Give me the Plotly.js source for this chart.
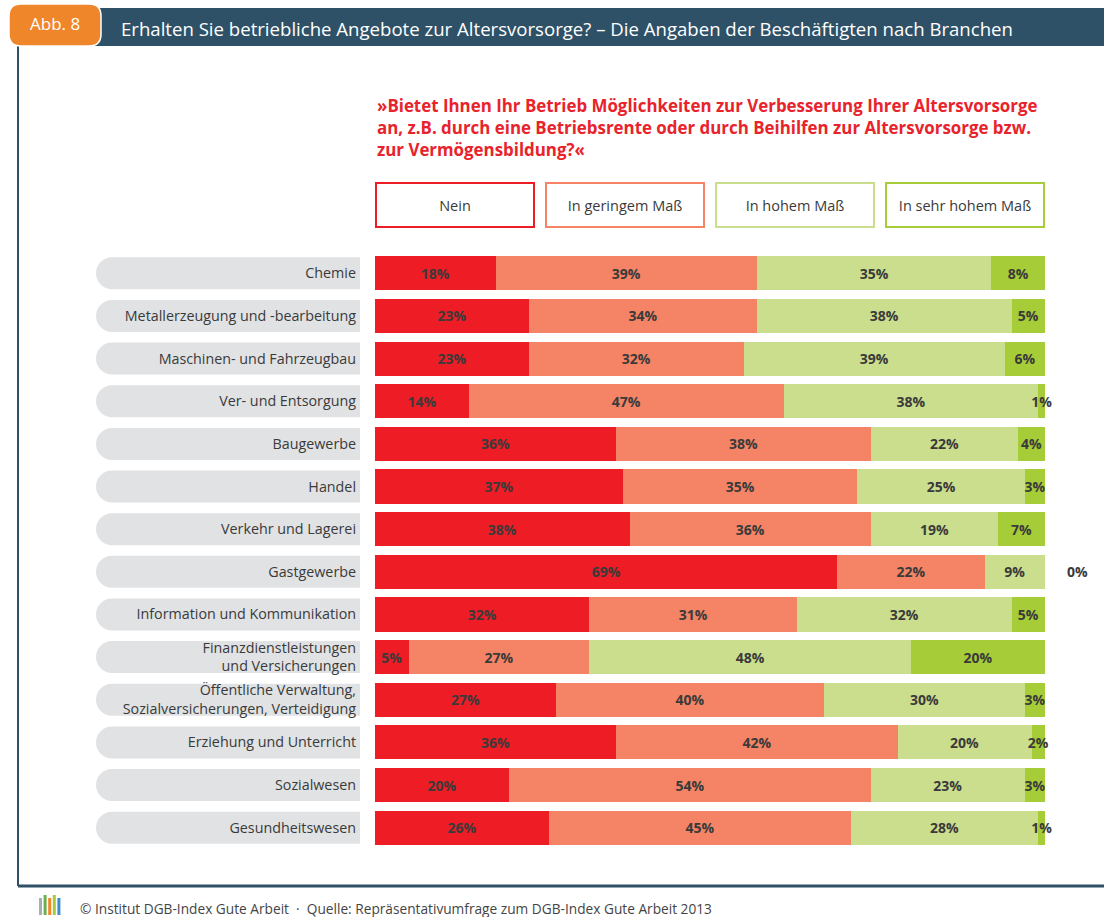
<!DOCTYPE html>
<html>
<head>
<meta charset="utf-8">
<script src="https://cdn.plot.ly/plotly-3.0.1.min.js"></script>
<style>
  html, body { margin: 0; padding: 0; background: #fff; }
  #chart { width: 1104px; height: 917px; }
</style>
</head>
<body>
<div id="chart"></div>
<script>
var branchen = [
    'Chemie',
    'Metallerzeugung und -bearbeitung',
    'Maschinen- und Fahrzeugbau',
    'Ver- und Entsorgung',
    'Baugewerbe',
    'Handel',
    'Verkehr und Lagerei',
    'Gastgewerbe',
    'Information und Kommunikation',
    'Finanzdienstleistungen<br>und Versicherungen',
    'Öffentliche Verwaltung,<br>Sozialversicherungen, Verteidigung',
    'Erziehung und Unterricht',
    'Sozialwesen',
    'Gesundheitswesen'
];
var antworten = ['Nein', 'In geringem Maß', 'In hohem Maß', 'In sehr hohem Maß'];

var nein       = [18, 23, 23, 14, 36, 37, 38, 69, 32, 5, 27, 36, 20, 26];
var gering     = [39, 34, 32, 47, 38, 35, 36, 22, 31, 27, 40, 42, 54, 45];
var hoch       = [35, 38, 39, 38, 22, 25, 19, 9, 32, 48, 30, 20, 23, 28];
var sehrHoch   = [8, 5, 6, 1, 4, 3, 7, 0, 5, 20, 3, 2, 3, 1];

var frage = '»Bietet Ihnen Ihr Betrieb Möglichkeiten zur Verbesserung Ihrer Altersvorsorge<br>' +
            'an, z.B. durch eine Betriebsrente oder durch Beihilfen zur Altersvorsorge bzw.<br>' +
            'zur Vermögensbildung?«';

var colors = ['#ee1d25', '#f58466', '#cade8d', '#a6cc38'];
var dark = '#2e5167';
var txt = '#3a3a3a';
var font = 'Open Sans, sans-serif';

// pixel -> paper helpers (plot area 375..1045 x, 252..849 y)
function X(px) { return (px - 375) / 670; }
function Y(py) { return (849 - py) / 597; }

var series = [nein, gering, hoch, sehrHoch];
var traces = series.map(function (vals, k) {
    return {
        type: 'bar',
        orientation: 'h',
        name: antworten[k],
        y: branchen,
        x: vals,
        marker: { color: colors[k], line: { width: 0 } },
        text: vals.map(function (v) { return v > 0 ? v + '%' : ''; }),
        texttemplate: '%{text}',
        textposition: 'inside',
        insidetextanchor: 'middle',
        constraintext: 'none',
        textangle: 0,
        textfont: { family: font, size: 14, color: txt, weight: 'bold' },
        cliponaxis: false,
        hoverinfo: 'skip'
    };
});

var shapes = [];
var annotations = [];

// grey pills behind the category labels
var h = 0.375, x0 = X(96), x1 = X(360), r = 16 / 670;
branchen.forEach(function (b, i) {
    shapes.push({
        type: 'path', xref: 'paper', yref: 'y', layer: 'below',
        path: 'M ' + x1 + ',' + (i - h) + ' L ' + (x0 + r) + ',' + (i - h) +
              ' C ' + (x0 + 0.448 * r) + ',' + (i - h) + ' ' + x0 + ',' + (i - 0.552 * h) + ' ' + x0 + ',' + i +
              ' C ' + x0 + ',' + (i + 0.552 * h) + ' ' + (x0 + 0.448 * r) + ',' + (i + h) + ' ' + (x0 + r) + ',' + (i + h) +
              ' L ' + x1 + ',' + (i + h) + ' Z',
        fillcolor: '#e1e2e4', line: { width: 0 }
    });
});

// zero values are drawn beside the bar end
sehrHoch.forEach(function (v, i) {
    if (v === 0) {
        annotations.push({
            xref: 'x', yref: 'y', x: 100, y: branchen[i], xshift: 32,
            xanchor: 'center', yanchor: 'middle',
            text: v + '%', showarrow: false,
            font: { family: font, size: 14, color: txt, weight: 'bold' }
        });
    }
});

// header band, frame and orange tag
shapes.push({ type: 'rect', xref: 'paper', yref: 'paper', x0: X(18), x1: X(1104), y0: Y(46), y1: Y(8),
    fillcolor: dark, line: { width: 0 } });
shapes.push({ type: 'line', xref: 'paper', yref: 'paper', x0: X(18), x1: X(18), y0: Y(45), y1: Y(886),
    line: { color: dark, width: 2 } });
shapes.push({ type: 'line', xref: 'paper', yref: 'paper', x0: X(18), x1: X(1104), y0: Y(886), y1: Y(886),
    line: { color: dark, width: 3 } });
var tx0 = X(9), tx1 = X(101), ty0 = Y(46), ty1 = Y(4), rx = 12 / 670, ry = 12 / 597;
shapes.push({
    type: 'path', xref: 'paper', yref: 'paper',
    path: 'M ' + (tx0 + rx) + ',' + ty1 + ' L ' + (tx1 - rx) + ',' + ty1 + ' Q ' + tx1 + ',' + ty1 + ' ' + tx1 + ',' + (ty1 - ry) +
          ' L ' + tx1 + ',' + (ty0 + ry) + ' Q ' + tx1 + ',' + ty0 + ' ' + (tx1 - rx) + ',' + ty0 +
          ' L ' + (tx0 + rx) + ',' + ty0 + ' Q ' + tx0 + ',' + ty0 + ' ' + tx0 + ',' + (ty0 + ry) +
          ' L ' + tx0 + ',' + (ty1 - ry) + ' Q ' + tx0 + ',' + ty1 + ' ' + (tx0 + rx) + ',' + ty1 + ' Z',
    fillcolor: '#f0862a', line: { color: '#ffffff', width: 1.5 }
});

annotations.push({ xref: 'paper', yref: 'paper', x: X(55), y: Y(24), xanchor: 'center', yanchor: 'middle',
    text: 'Abb. 8', showarrow: false, font: { family: font, size: 17, color: '#ffffff' } });
annotations.push({ xref: 'paper', yref: 'paper', x: X(119), y: Y(28), xanchor: 'left', yanchor: 'middle',
    text: 'Erhalten Sie betriebliche Angebote zur Altersvorsorge? – Die Angaben der Beschäftigten nach Branchen',
    showarrow: false, font: { family: font, size: 18.6, color: '#ffffff' } });

annotations.push({ xref: 'paper', yref: 'paper', x: 0, y: Y(92), xanchor: 'left', yanchor: 'top', align: 'left',
    text: frage, showarrow: false, font: { family: font, size: 16.9, color: '#e8232b', weight: 'bold' } });

// legend boxes
var boxW = 160, gap = 10;
antworten.forEach(function (a, k) {
    var cx = 375 + k * (boxW + gap) + boxW / 2;
    annotations.push({
        xref: 'paper', yref: 'paper', x: X(cx), y: Y(205), xanchor: 'center', yanchor: 'middle',
        text: a, showarrow: false,
        width: boxW - 4, height: 42, borderpad: 0, borderwidth: 2, bordercolor: colors[k],
        font: { family: font, size: 14.5, color: txt }
    });
});

// footer
var iconCols = ['#a9aeb3', '#6ab04c', '#f0862a', '#a6cc38', '#3b8fd0'];
iconCols.forEach(function (c, k) {
    shapes.push({ type: 'rect', xref: 'paper', yref: 'paper', x0: X(39 + k * 4.6), x1: X(42 + k * 4.6),
        y0: Y(915), y1: Y(898 - (k % 2) * 3), fillcolor: c, line: { width: 0 } });
});
annotations.push({ xref: 'paper', yref: 'paper', x: X(78), y: Y(908), xanchor: 'left', yanchor: 'middle',
    text: '© Institut DGB-Index Gute Arbeit  ·  Quelle: Repräsentativumfrage zum DGB-Index Gute Arbeit 2013',
    showarrow: false, font: { family: font, size: 13.7, color: '#444444' } });

var layout = {
    width: 1104,
    height: 917,
    margin: { l: 375, r: 59, t: 252, b: 68 },
    paper_bgcolor: '#ffffff',
    plot_bgcolor: '#ffffff',
    barmode: 'stack',
    bargap: 0.2,
    showlegend: false,
    xaxis: { range: [0, 100], showgrid: false, zeroline: false, showticklabels: false, fixedrange: true },
    yaxis: {
        type: 'category',
        categoryorder: 'array',
        categoryarray: branchen,
        range: [13.5, -0.5],
        showgrid: false, zeroline: false, ticks: '',
        ticklabelstandoff: 18,
        tickfont: { family: font, size: 14.3, color: txt },
        fixedrange: true
    },
    shapes: shapes,
    annotations: annotations
};

Plotly.newPlot('chart', traces, layout, { displayModeBar: false, staticPlot: true });
</script>
</body>
</html>
